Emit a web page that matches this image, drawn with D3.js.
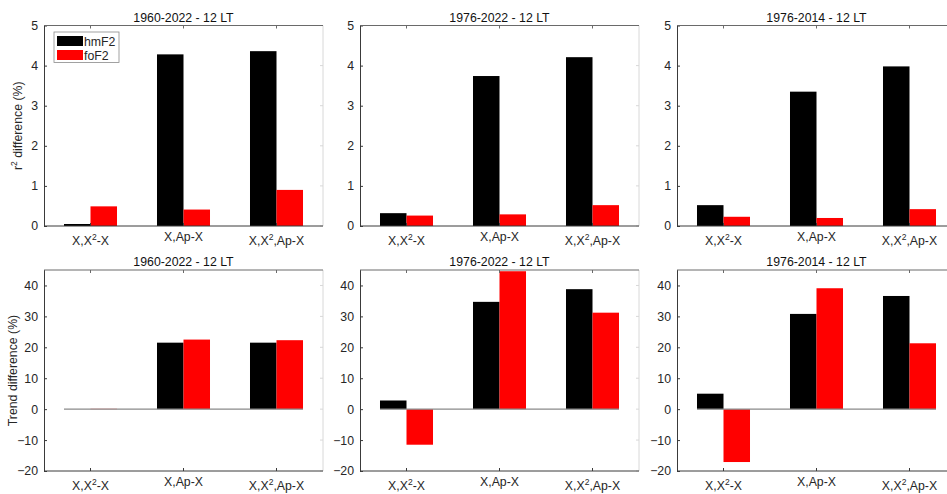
<!DOCTYPE html>
<html>
<head>
<meta charset="utf-8">
<script src="https://cdn.jsdelivr.net/npm/d3@7"></script>
<style>
  body { margin: 0; background: #fff; }
  svg { display: block; font-family: "Liberation Sans", Arial, sans-serif; }
</style>
</head>
<body>
<div id="chart"></div>
<script>
// data
var titles = ["1960-2022 - 12 LT", "1976-2022 - 12 LT", "1976-2014 - 12 LT"];
var categories = ["X,X2-X", "X,Ap-X", "X,X2,Ap-X"];
var seriesNames = ["hmF2", "foF2"];
var seriesColors = ["#000000", "#ff0000"];

// r2 difference (%) per period
var r2_hmF2 = [[0.05, 4.28, 4.36], [0.32, 3.74, 4.21], [0.52, 3.35, 3.98]];
var r2_foF2 = [[0.49, 0.41, 0.90], [0.26, 0.29, 0.52], [0.23, 0.20, 0.42]];

// trend difference (%) per period
var trend_hmF2 = [[0, 21.5, 21.5], [2.8, 34.7, 38.8], [5.0, 30.8, 36.6]];
var trend_foF2 = [[0.1, 22.5, 22.3], [-11.5, 44.6, 31.2], [-17.1, 39.1, 21.3]];

var r2Ticks = [0, 1, 2, 3, 4, 5];
var trendTicks = [-20, -10, 0, 10, 20, 30, 40];

var W = 947, H = 494;
var FS = "12.3px";
var svg = d3.select("#chart").append("svg")
    .attr("width", W)
    .attr("height", H);

var colLeft = [44, 360, 677];
var plotW = 279;
var rows = [
    {top: 25.5, bottom: 226, domain: [0, 5], ticks: r2Ticks, a: r2_hmF2, b: r2_foF2, ylabel: "r2"},
    {top: 270, bottom: 471, domain: [-20, 45], ticks: trendTicks, a: trend_hmF2, b: trend_foF2, ylabel: "Trend difference (%)"}
];
var barW = 0.285;
var axisColor = "#3a3a3a";
var textColor = "#262626";

// write a category label, with the 2 as superscript
function catLabel(sel, label) {
    var parts = label.split("2");
    sel.append("tspan").text(parts[0]);
    for (var k = 1; k < parts.length; k++) {
        sel.append("tspan").attr("font-size", "8.5px").attr("dy", -5).text("2");
        sel.append("tspan").attr("dy", 5).text(parts[k]);
    }
}

rows.forEach(function(row, r) {
    for (var c = 0; c < 3; c++) {
        var g = svg.append("g").attr("transform", "translate(" + colLeft[c] + ",0)");

        var x = d3.scaleLinear().domain([0.5, 3.5]).range([0, plotW]);
        var y = d3.scaleLinear().domain(row.domain).range([row.bottom, row.top]);

        // right edge (faint)
        g.append("line")
            .attr("x1", plotW).attr("x2", plotW)
            .attr("y1", row.top).attr("y2", row.bottom)
            .attr("stroke", "#d8d8d8");

        // bars
        var vals = categories.map(function(cat, i) {
            return {i: i + 1, a: row.a[c][i], b: row.b[c][i]};
        });
        g.selectAll(".barA").data(vals).enter().append("rect")
            .attr("x", function(d) { return x(d.i - barW); })
            .attr("width", x(barW) - x(0))
            .attr("y", function(d) { return y(Math.max(0, d.a)); })
            .attr("height", function(d) { return Math.abs(y(d.a) - y(0)); })
            .attr("fill", seriesColors[0]);
        g.selectAll(".barB").data(vals).enter().append("rect")
            .attr("x", function(d) { return x(d.i); })
            .attr("width", x(barW) - x(0))
            .attr("y", function(d) { return y(Math.max(0, d.b)); })
            .attr("height", function(d) { return Math.abs(y(d.b) - y(0)); })
            .attr("fill", seriesColors[1]);

        // baseline for rows with negative values
        if (row.domain[0] < 0) {
            g.append("line")
                .attr("x1", x(1 - barW)).attr("x2", x(3 + barW))
                .attr("y1", y(0)).attr("y2", y(0))
                .attr("stroke", "#8a8a8a").attr("stroke-width", 1.2);
        }

        // y axis
        var yAxis = d3.axisLeft(y).tickValues(row.ticks).tickFormat(d3.format("d"))
            .tickSize(-3).tickPadding(6);
        var ya = g.append("g").call(yAxis);
        ya.select(".domain").attr("stroke", axisColor).attr("d", "M0.5," + row.top + "V" + row.bottom);
        ya.selectAll(".tick line").attr("stroke", axisColor);
        ya.selectAll("text").attr("fill", textColor).style("font-size", FS)
            .style("font-family", "Liberation Sans, Arial, sans-serif");

        // right ticks (faint)
        g.selectAll(".rtick").data(row.ticks).enter().append("line")
            .attr("x1", plotW - 3).attr("x2", plotW)
            .attr("y1", function(d) { return y(d); }).attr("y2", function(d) { return y(d); })
            .attr("stroke", "#d8d8d8");

        // top border and x ticks
        g.append("line")
            .attr("x1", 0).attr("x2", plotW)
            .attr("y1", row.top).attr("y2", row.top)
            .attr("stroke", "#6a6a6a");
        g.selectAll(".ttick").data([1, 2, 3]).enter().append("line")
            .attr("x1", function(d) { return x(d); }).attr("x2", function(d) { return x(d); })
            .attr("y1", row.top).attr("y2", row.top + 3)
            .attr("stroke", "#6a6a6a");

        // bottom axis
        g.append("line")
            .attr("x1", 0).attr("x2", plotW)
            .attr("y1", row.bottom).attr("y2", row.bottom)
            .attr("stroke", axisColor);
        g.selectAll(".btick").data([1, 2, 3]).enter().append("line")
            .attr("x1", function(d) { return x(d); }).attr("x2", function(d) { return x(d); })
            .attr("y1", row.bottom).attr("y2", row.bottom - 3)
            .attr("stroke", axisColor);

        // category labels
        categories.forEach(function(cat, i) {
            var t = g.append("text")
                .attr("x", x(i + 1))
                .attr("y", row.bottom + (cat.indexOf("2") >= 0 ? 19 : 15))
                .attr("text-anchor", "middle")
                .attr("fill", textColor)
                .style("font-size", FS);
            catLabel(t, cat);
        });

        // title
        g.append("text")
            .attr("x", plotW / 2)
            .attr("y", row.top - 4)
            .attr("text-anchor", "middle")
            .attr("fill", "#111")
            .style("font-size", FS)
            .text(titles[c]);

        // y label on first column
        if (c === 0) {
            var yl = svg.append("text")
                .attr("transform", "translate(" + (r === 0 ? 22 : 17) + "," + ((row.top + row.bottom) / 2) + ") rotate(-90)")
                .attr("text-anchor", "middle")
                .attr("fill", textColor)
                .style("font-size", FS);
            if (row.ylabel === "r2") {
                yl.append("tspan").text("r");
                yl.append("tspan").attr("font-size", "8.5px").attr("dy", -5).text("2");
                yl.append("tspan").attr("dy", 5).text(" difference (%)");
            } else {
                yl.text(row.ylabel);
            }
        }

        // legend in the first panel
        if (r === 0 && c === 0) {
            var lg = g.append("g").attr("transform", "translate(10,32)");
            lg.append("rect")
                .attr("x", 0).attr("y", 0).attr("width", 65).attr("height", 30.5)
                .attr("fill", "#fff").attr("stroke", "#8a8a8a").attr("stroke-width", 0.8);
            seriesNames.forEach(function(name, k) {
                lg.append("rect")
                    .attr("x", 3).attr("y", 4 + k * 14)
                    .attr("width", 26).attr("height", 10)
                    .attr("fill", seriesColors[k]);
                lg.append("text")
                    .attr("x", 30).attr("y", 13.5 + k * 14)
                    .attr("fill", textColor)
                    .style("font-size", FS)
                    .text(name);
            });
        }
    }
});
</script>
</body>
</html>
